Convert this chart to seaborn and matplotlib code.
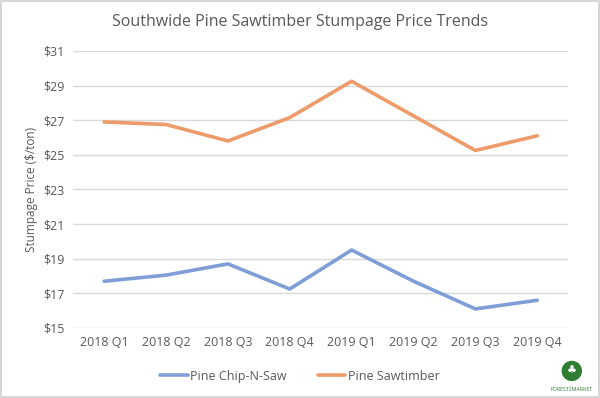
import pandas as pd
import seaborn as sns
import matplotlib.pyplot as plt
from matplotlib.patches import Ellipse

quarters = ["2018 Q1", "2018 Q2", "2018 Q3", "2018 Q4",
            "2019 Q1", "2019 Q2", "2019 Q3", "2019 Q4"]
chip_n_saw = [17.7, 18.05, 18.7, 17.25, 19.5, 17.7, 16.1, 16.6]
sawtimber = [26.9, 26.75, 25.8, 27.15, 29.25, 27.25, 25.25, 26.1]
y_ticks = [15, 17, 19, 21, 23, 25, 27, 29, 31]

df = pd.DataFrame({
    "Quarter": quarters * 2,
    "Price": chip_n_saw + sawtimber,
    "Product": ["Pine Chip-N-Saw"] * len(quarters) + ["Pine Sawtimber"] * len(quarters),
})

sns.set_theme(style="white")
plt.rcParams["font.family"] = ["Open Sans", "DejaVu Sans"]
text_color = "#595959"

fig = plt.figure(figsize=(6, 3.98), dpi=100)
ax = fig.add_axes([0.122, 0.176, 0.825, 0.696])

sns.lineplot(data=df, x="Quarter", y="Price", hue="Product", sort=False,
             palette={"Pine Chip-N-Saw": "#7F9ED8", "Pine Sawtimber": "#ED9B6A"},
             linewidth=2.6, ax=ax, legend=False)

ax.set_xlim(-0.5, len(quarters) - 0.5)
ax.set_ylim(15, 31)
ax.set_yticks(y_ticks)
ax.set_yticklabels([f"${v}" for v in y_ticks])
ax.yaxis.grid(True, color="#D9D9D9", linewidth=1)
ax.set_axisbelow(True)
for s in ax.spines.values():
    s.set_visible(False)
ax.tick_params(axis="both", length=0, labelsize=9, colors=text_color, pad=6)
ax.set_xlabel("")
ax.set_ylabel("Stumpage Price ($/ton)", fontsize=8.5, color=text_color, labelpad=4)

fig.text(0.5, 0.945, "Southwide Pine Sawtimber Stumpage Price Trends",
         ha="center", va="center", fontsize=11.5, color=text_color)

# legend
handles = [plt.Line2D([], [], color="#7F9ED8", lw=2.6),
           plt.Line2D([], [], color="#ED9B6A", lw=2.6)]
fig.legend(handles, ["Pine Chip-N-Saw", "Pine Sawtimber"], loc="center",
           bbox_to_anchor=(0.5, 0.055), ncol=2, frameon=False, fontsize=9,
           handlelength=2.2, handletextpad=0.2, columnspacing=2.5,
           labelcolor=text_color)

# Forest2Market logo
fig.patches.append(Ellipse((0.953, 0.068), 0.034, 0.051, transform=fig.transFigure,
                           facecolor="#2E7D32", edgecolor="none"))
fig.text(0.953, 0.068, "♣", ha="center", va="center", fontsize=8,
         color="white", family="DejaVu Sans")
fig.text(0.953, 0.022, "FOREST2MARKET", ha="center", va="center",
         fontsize=3.8, color="#2E7D32")

# frame around the image
fig.patches.append(plt.Rectangle((0.002, 0.002), 0.996, 0.996, transform=fig.transFigure,
                                 fill=False, edgecolor="#D0D0D0", linewidth=1.2))

fig.savefig("out.png", dpi=100)
